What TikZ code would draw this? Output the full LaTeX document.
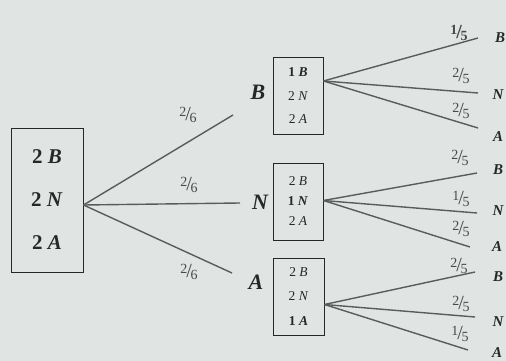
\documentclass[tikz,border=0pt]{standalone}
\usepackage{fontspec}
\setmainfont{Liberation Serif}
\definecolor{paper}{RGB}{224,229,227}
\definecolor{ink}{RGB}{38,40,40}
\definecolor{branch}{RGB}{88,92,92}
\newcommand{\frc}[2]{\raisebox{0.42em}{\fontsize{14}{14}\selectfont #1}\kern-0.1em{\fontsize{20}{20}\selectfont/}\kern-0.15em\raisebox{-0.25em}{\fontsize{14}{14}\selectfont #2}}
\tikzset{
  urn/.style={draw=ink, line width=1pt, align=center, inner sep=0pt, text=ink},
  pick/.style={font=\fontsize{22}{22}\selectfont\bfseries\itshape, text=ink},
  leaf/.style={font=\fontsize{15}{15}\selectfont\bfseries\itshape, text=ink},
  prob/.style={text=ink!85, inner sep=0pt},
  branchline/.style={draw=branch, line width=1.4pt},
}
\begin{document}
\begin{tikzpicture}[x=1pt, y=-1pt]
  % background and frame of the page
  \fill[paper] (0,0) rectangle (506,361);
  \useasboundingbox (0,0) rectangle (506,361);

  % 1. urne de départ
  \node[urn, minimum width=72pt, minimum height=144pt,
        font=\fontsize{21}{43}\selectfont\bfseries] (root) at (47,200)
        {2 \textit{B}\\2 \textit{N}\\2 \textit{A}};

  % 2. premier tirage
  \node[pick] (pB) at (258,92) {B};
  \node[pick] (pN) at (260,202) {N};
  \node[pick] (pA) at (256,282) {A};
  \coordinate (eB) at (233,115);
  \coordinate (eN) at (240,203);
  \coordinate (eA) at (232,273);
  \draw[branchline] ([yshift=-5pt]root.east) -- (eB);
  \draw[branchline] ([yshift=-5pt]root.east) -- (eN);
  \draw[branchline] ([yshift=-5pt]root.east) -- (eA);
  \node[prob] at (188,115) {\frc{2}{6}};
  \node[prob] at (189,185) {\frc{2}{6}};
  \node[prob] at (189,272) {\frc{2}{6}};

  % 3. urnes après le premier tirage
  \node[urn, minimum width=50pt, minimum height=76pt,
        font=\fontsize{13.5}{23.5}\selectfont] (bagB) at (298,96)
        {\textbf{1 \textit{B}}\\2 \textit{N}\\2 \textit{A}};
  \node[urn, minimum width=50pt, minimum height=77pt,
        font=\fontsize{13.5}{20}\selectfont] (bagN) at (298,201.5)
        {2 \textit{B}\\\textbf{1 \textit{N}}\\2 \textit{A}};
  \node[urn, minimum width=51pt, minimum height=77pt,
        font=\fontsize{13.5}{24.5}\selectfont] (bagA) at (298.5,296.5)
        {2 \textit{B}\\2 \textit{N}\\\textbf{1 \textit{A}}};

  % 4. second tirage
  \node[leaf] (bBB) at (500,38) {B};
  \node[leaf] (bBN) at (498,95) {N};
  \node[leaf] (bBA) at (498,137) {A};
  \node[leaf] (bNB) at (498,170) {B};
  \node[leaf] (bNN) at (498,211) {N};
  \node[leaf] (bNA) at (497,247) {A};
  \node[leaf] (bAB) at (498,277) {B};
  \node[leaf] (bAN) at (498,322) {N};
  \node[leaf] (bAA) at (497,353) {A};

  \coordinate (eBB) at (478,38);
  \coordinate (eBN) at (478,93);
  \coordinate (eBA) at (478,128);
  \coordinate (eNB) at (477,173);
  \coordinate (eNN) at (477,213);
  \coordinate (eNA) at (470,247);
  \coordinate (eAB) at (475,272);
  \coordinate (eAN) at (475,317);
  \coordinate (eAA) at (468,350);

  \foreach \s in {B,N,A}
    \draw[branchline] ([yshift=15pt]bagB.east) -- (eB\s);
  \foreach \s in {B,N,A}
    \draw[branchline] ([yshift=1pt]bagN.east) -- (eN\s);
  \foreach \s in {B,N,A}
    \draw[branchline] ([yshift=-8pt]bagA.east) -- (eA\s);

  \node[prob, font=\bfseries] at (459,33) {\frc{1}{5}};
  \node[prob] at (461,76) {\frc{2}{5}};
  \node[prob] at (461,111) {\frc{2}{5}};
  \node[prob] at (460,158) {\frc{2}{5}};
  \node[prob] at (461,199) {\frc{1}{5}};
  \node[prob] at (461,229) {\frc{2}{5}};
  \node[prob] at (459,266) {\frc{2}{5}};
  \node[prob] at (461,304) {\frc{2}{5}};
  \node[prob] at (460,334) {\frc{1}{5}};
\end{tikzpicture}
\end{document}
